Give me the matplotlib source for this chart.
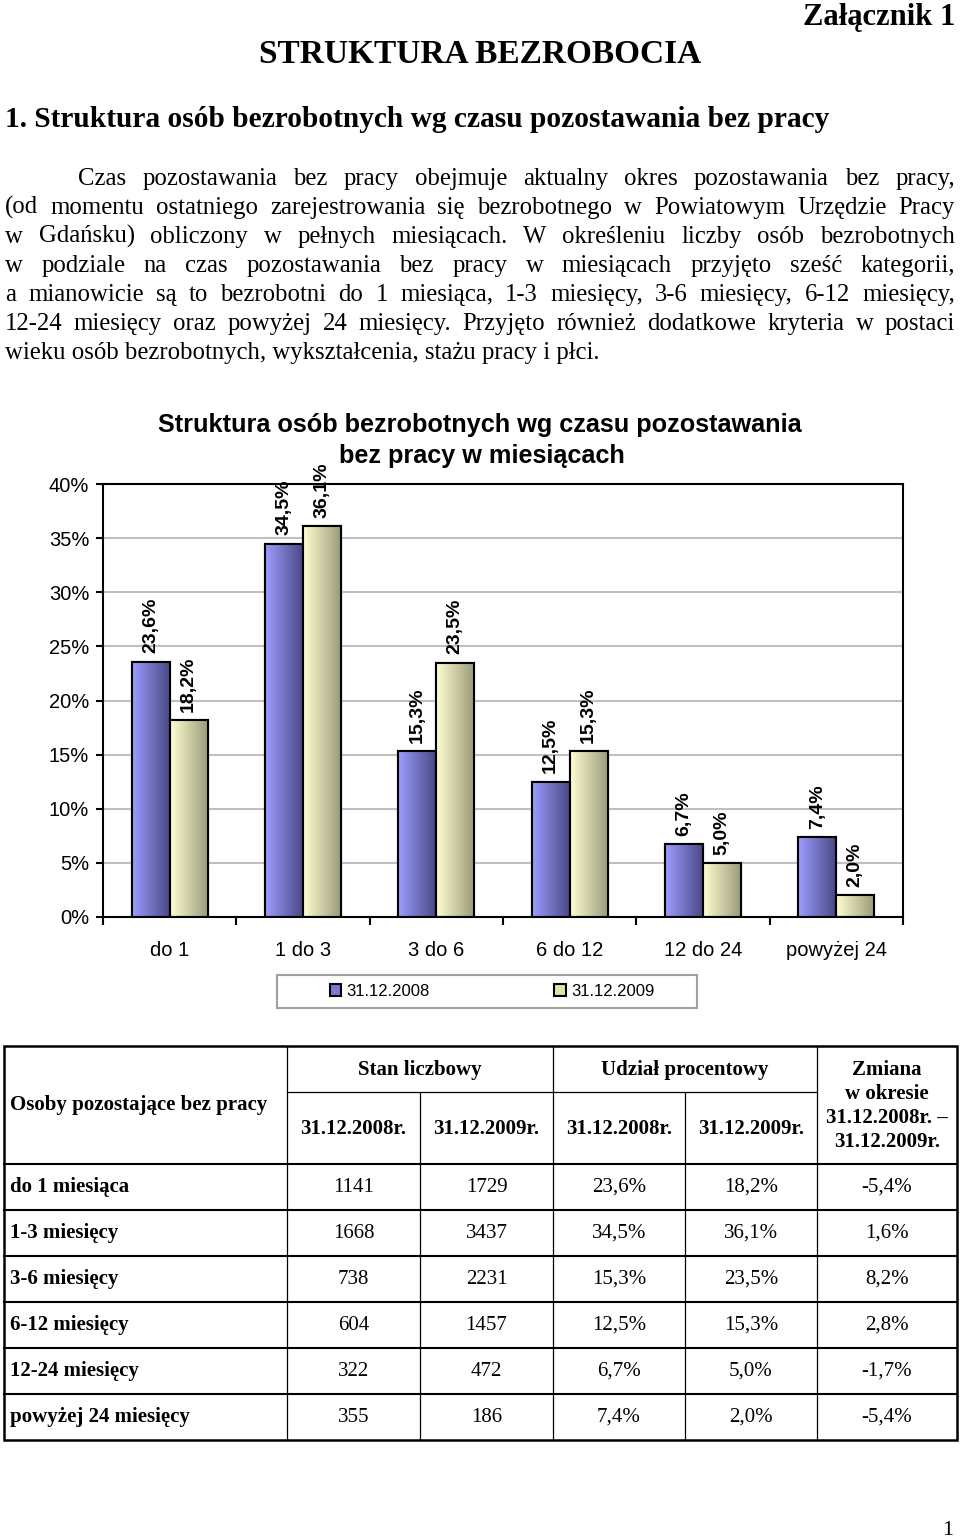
import numpy as np
import matplotlib
matplotlib.use("Agg")
import matplotlib.pyplot as plt
from matplotlib.colors import LinearSegmentedColormap
from matplotlib.patches import Rectangle

W, H = 960, 1537
SERIF = "Liberation Serif"
SANS = "Liberation Sans"

# chart data
categories = ["do 1", "1 do 3", "3 do 6", "6 do 12", "12 do 24", "powyżej 24"]
share_2008 = [23.6, 34.5, 15.3, 12.5, 6.7, 7.4]
share_2009 = [18.2, 36.1, 23.5, 15.3, 5.0, 2.0]
series_names = ["31.12.2008", "31.12.2009"]

# table data
row_labels = ["do 1 miesiąca", "1-3 miesięcy", "3-6 miesięcy", "6-12 miesięcy",
              "12-24 miesięcy", "powyżej 24 miesięcy"]
count_2008 = [1141, 1668, 738, 604, 322, 355]
count_2009 = [1729, 3437, 2231, 1457, 472, 186]
change = [-5.4, 1.6, 8.2, 2.8, -1.7, -5.4]

paragraph = [
    "Czas pozostawania bez pracy obejmuje aktualny okres pozostawania bez pracy,",
    "(od momentu ostatniego zarejestrowania się bezrobotnego w Powiatowym Urzędzie Pracy",
    "w Gdańsku) obliczony w pełnych miesiącach. W określeniu liczby osób bezrobotnych",
    "w podziale na czas pozostawania bez pracy w miesiącach przyjęto sześć kategorii,",
    "a mianowicie są to bezrobotni do 1 miesiąca, 1-3 miesięcy, 3-6 miesięcy, 6-12 miesięcy,",
    "12-24 miesięcy oraz powyżej 24 miesięcy. Przyjęto również dodatkowe kryteria w postaci",
    "wieku osób bezrobotnych, wykształcenia, stażu pracy i płci.",
]


def pct(v):
    return f"{v:.1f}%".replace(".", ",")


fig = plt.figure(figsize=(W / 100, H / 100), dpi=100)
fig.patch.set_facecolor("white")

# page layer in pixel coordinates
page = fig.add_axes([0, 0, 1, 1])
page.set_xlim(0, W)
page.set_ylim(H, 0)
page.axis("off")

page.text(955, 25, "Załącznik 1", ha="right", va="baseline", fontsize=22,
          fontweight="bold", family=SERIF)
page.text(480, 63, "STRUKTURA BEZROBOCIA", ha="center", va="baseline", fontsize=24,
          fontweight="bold", family=SERIF)
page.text(5, 127, "1. Struktura osób bezrobotnych wg czasu pozostawania bez pracy",
          ha="left", va="baseline", fontsize=21.2, fontweight="bold", family=SERIF)

# justified paragraph
renderer = fig.canvas.get_renderer()
body = dict(fontsize=17.8, family=SERIF, va="baseline", ha="left")
for i, line in enumerate(paragraph):
    y = 185 + 29 * i
    x0 = 78 if i == 0 else 5
    words = line.split()
    if i == len(paragraph) - 1:
        page.text(x0, y, line, **body)
        continue
    arts = [page.text(0, y, w, **body) for w in words]
    widths = [a.get_window_extent(renderer).width for a in arts]
    gap = (955 - x0 - sum(widths)) / (len(words) - 1)
    x = x0
    for a, wd in zip(arts, widths):
        a.set_x(x)
        x += wd + gap

# chart
ax = fig.add_axes([103 / W, 1 - 917 / H, 800 / W, 433 / H])
x = np.arange(len(categories))
bw = 0.285

b1 = ax.bar(x - bw / 2, share_2008, bw, color="#7a7ad6", edgecolor="black",
            linewidth=1.5, zorder=2, label=series_names[0])
b2 = ax.bar(x + bw / 2, share_2009, bw, color="#e2e2b0", edgecolor="black",
            linewidth=1.5, zorder=2, label=series_names[1])


def shade(bars, light, dark):
    cmap = LinearSegmentedColormap.from_list("g", [light, dark])
    grad = np.linspace(0, 1, 64).reshape(1, -1)
    for b in bars:
        x0, y0 = b.get_x(), b.get_y()
        im = ax.imshow(grad, cmap=cmap, aspect="auto", interpolation="bicubic",
                       extent=[x0, x0 + b.get_width(), y0, y0 + b.get_height()],
                       zorder=2.2)
        im.set_clip_path(b)


shade(b1, "#9c9cff", "#4a4a85")
shade(b2, "#ffffd2", "#9c9c7c")
ax.bar(x - bw / 2, share_2008, bw, fill=False, edgecolor="black", linewidth=1.5, zorder=3)
ax.bar(x + bw / 2, share_2009, bw, fill=False, edgecolor="black", linewidth=1.5, zorder=3)

for bars, vals in ((b1, share_2008), (b2, share_2009)):
    for b, v in zip(bars, vals):
        ax.annotate(pct(v), (b.get_x() + b.get_width() / 2, v), xytext=(0, 6),
                    textcoords="offset points", rotation=90, ha="center", va="bottom",
                    fontsize=14, fontweight="bold", family=SANS, zorder=4)

ax.set_xlim(-0.5, len(categories) - 0.5)
ax.set_ylim(0, 40)
ax.set_yticks(np.arange(0, 41, 5))
ax.set_yticklabels([f"{v}%" for v in range(0, 41, 5)], family=SANS, fontsize=14.5)
ax.set_xticks(x)
ax.set_xticklabels(categories, family=SANS, fontsize=14.5)
ax.set_xticks(np.arange(-0.5, len(categories), 1), minor=True)
ax.tick_params(axis="x", which="major", length=0, pad=17)
ax.tick_params(axis="x", which="minor", length=6, width=1.5, direction="out")
ax.tick_params(axis="y", length=5, width=1.5, pad=5)
ax.yaxis.grid(True, color="#c0c0c0", linewidth=1.5)
ax.set_axisbelow(True)
for s in ax.spines.values():
    s.set_color("black")
    s.set_linewidth(1.5)

fig.text(480 / W, 1 - 432 / H, "Struktura osób bezrobotnych wg czasu pozostawania",
         ha="center", va="baseline", fontsize=18.2, fontweight="bold", family=SANS)
fig.text(482 / W, 1 - 463 / H, "bez pracy w miesiącach",
         ha="center", va="baseline", fontsize=18.2, fontweight="bold", family=SANS)

# legend with a separate frame
page.add_patch(Rectangle((277, 975), 420, 33, fill=False, edgecolor="#a0a0a0",
                         linewidth=1.5))
fig.legend(handles=[b1, b2], loc="center", bbox_to_anchor=(492 / W, 1 - 991 / H),
           ncol=2, frameon=False, prop={"family": SANS, "size": 12},
           handlelength=0.7, handleheight=0.7, handletextpad=0.3, columnspacing=7.5)

# table
L, R, T, B = 4, 957, 1046, 1440
cols = [287, 420, 553, 685, 817]
mid_h = 1092
hdr_b = 1164
row_h = 46
page.add_patch(Rectangle((L, T), R - L, B - T, fill=False, edgecolor="black",
                         linewidth=1.8))
for cx in (287, 553, 817):
    page.plot([cx, cx], [T, B], color="black", lw=0.9)
for cx in (420, 685):
    page.plot([cx, cx], [mid_h, B], color="black", lw=0.9)
page.plot([287, 817], [mid_h, mid_h], color="black", lw=0.9)
for k in range(len(row_labels)):
    yy = hdr_b + k * row_h
    page.plot([L, R], [yy, yy], color="black", lw=1.5)

hdr = dict(family=SERIF, fontsize=15, fontweight="bold", ha="center", va="center")
page.text(10, 1105, "Osoby pozostające bez pracy", **{**hdr, "ha": "left"})
page.text(420, 1070, "Stan liczbowy", **hdr)
page.text(685, 1070, "Udział procentowy", **hdr)
centers = [(a + b) / 2 for a, b in zip(cols[:-1], cols[1:])]
for cx, lbl in zip(centers, ["31.12.2008r.", "31.12.2009r.", "31.12.2008r.", "31.12.2009r."]):
    page.text(cx, 1129, lbl, **hdr)
for yy, lbl in zip([1070, 1094, 1118, 1142],
                   ["Zmiana", "w okresie", "31.12.2008r. –", "31.12.2009r."]):
    page.text(887, yy, lbl, **hdr)

cell = dict(family=SERIF, fontsize=15, ha="center", va="center")
for k, lbl in enumerate(row_labels):
    yy = hdr_b + k * row_h + row_h / 2
    page.text(10, yy, lbl, **{**cell, "ha": "left", "fontweight": "bold"})
    vals = [str(count_2008[k]), str(count_2009[k]), pct(share_2008[k]),
            pct(share_2009[k]), pct(change[k])]
    for cx, v in zip(centers + [887], vals):
        page.text(cx, yy, v, **cell)

page.text(948, 1535, "1", ha="center", va="baseline", fontsize=16, family=SERIF)

fig.savefig("out.png", dpi=100)
